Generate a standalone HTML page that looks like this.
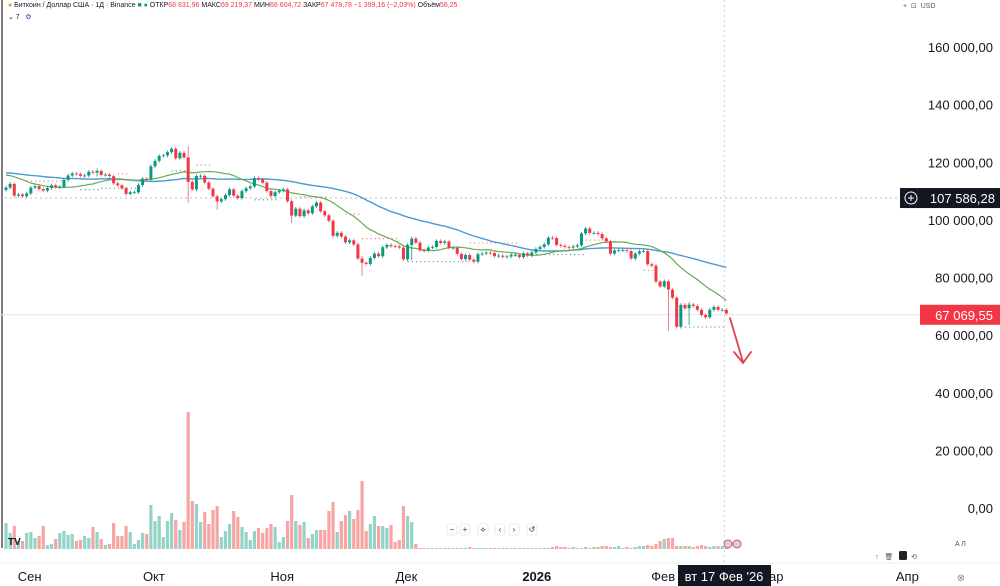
<!DOCTYPE html>
<html><head><meta charset="utf-8">
<style>
html,body{margin:0;padding:0;background:#fff;overflow:hidden}
body{width:1000px;height:586px;position:relative;font-family:"Liberation Sans","DejaVu Sans",sans-serif}
svg{position:absolute;left:0;top:0}
.hdr{position:absolute;left:8px;top:2px;font-size:7px;color:#131722;white-space:nowrap}
.hdr .r{color:#f23645}
</style></head>
<body>
<svg id="chart" width="1000" height="586"></svg>
<div class="hdr"><span style="color:#f7931a">●</span> Биткоин / Доллар США · 1Д · Binance <span style="color:#089981">■ ●</span> ОТКР<span class="r">68 831,96</span> МАКС<span class="r">69 219,37</span> МИН<span class="r">66 604,72</span> ЗАКР<span class="r">67 478,78 −1 399,16 (−2,03%)</span> Объём<span class="r">56,25</span></div>
<div style="position:absolute;left:8px;top:13px;font-size:7px;color:#131722">⌄ 7 &nbsp;&nbsp;<span style="color:#7e57c2">✿</span></div>
<div style="position:absolute;left:903px;top:2px;font-size:7px;color:#555">+ &nbsp;⊡ &nbsp;USD</div>
<script>
const priorCloses=[111,116,117,117,119,119,117,118,119,117,118,117,120,118,118,117,117,119,118,118,117,115,115,113,114,115,114,115,117,117,116,117,119,118,120,123,118,117,117,115,116,113,114,112,116,115,113,110,111];
const closes=[111.2,112.5,108.4,108.8,108.2,
109.2,111.2,111.7,110.7,110.2,111.1,112.0,111.4,111.5,113.9,
115.4,116.1,115.9,115.3,115.4,116.7,116.4,117.0,115.6,115.7,
115.2,112.7,112.0,111.0,109.0,109.6,109.6,112.1,114.3,114.0,
118.6,120.5,122.2,122.4,123.5,124.7,121.4,123.3,121.7,113.2,
110.6,115.2,115.3,113.0,110.8,108.2,106.4,107.2,108.6,110.6,
108.4,107.6,110.0,111.0,111.6,114.5,114.1,112.9,110.0,108.3,109.6,
110.1,110.6,106.5,101.5,103.9,101.3,103.3,102.3,104.7,106.0,
103.0,101.6,99.7,94.5,95.5,94.2,92.2,92.9,91.5,86.6,
85.1,84.7,86.8,88.3,87.4,90.5,91.3,90.9,90.8,90.4,
86.3,91.3,93.5,92.1,89.4,89.3,90.4,90.6,92.7,92.0,
92.5,90.3,90.3,88.2,86.4,87.8,86.2,85.5,88.1,88.3,
88.6,88.5,87.4,87.6,87.2,87.3,87.8,87.8,87.1,88.4,87.6,
88.7,89.9,90.6,91.5,93.8,93.7,91.3,91.0,90.6,90.4,
90.8,91.2,95.3,97.0,95.5,95.5,95.1,93.6,92.6,88.3,
89.4,89.5,89.5,89.2,86.6,88.3,89.1,89.2,84.6,84.1,78.6,
76.9,78.7,75.8,73.0,62.9,70.5,69.3,70.6,70.1,68.8,
67.0,66.2,68.8,69.8,68.8,68.8,67.5];
const firstOpen=110.4;
const wickSpikes=[[44,125.5,106],[51,108.8,103.5],[69,107,98.9],[86,87.5,80.6],[98,94.2,86],[160,73.5,61.5],[165,71.5,63.5],[22,117.8,115]];
const volumes=[26,16,23,8,8,16,17,11,13,23,4,5,10,16,18,14,15,8,9,13,11,22,17,10,4,5,26,13,13,23,17,5,9,16,15,44,28,33,12,28,36,29,19,27,137,48,45,27,37,25,39,43,12,18,25,38,32,22,17,9,18,21,16,21,25,22,7,12,28,54,28,24,27,11,15,19,19,19,38,47,17,28,34,38,30,39,68,18,25,33,23,23,21,24,7,9,43,33,27,5,
1,1,1,1,1,1,1,1,1,1,1,1,2,1,1,1,1,1,1,1,1,1,1,1,1,1,1,1,1,1,1,1,2,3,2,2,1,2,1,1,2,1,2,2,3,3,2,2,3,1,2,1,2,3,3,4,3,5,8,10,11,11,3,3,3,3,2,3,4,3,2,3,3,3,2];
const resistLevels=[[5,14,113.5],[27,30,116],[46,50,119],[71,78,108],[82,86,102],[86,95,93.5],[112,124,92],[140,145,93],[154,157,82.5]];
const supportLevels=[[18,23,110.5],[23,33,111],[40,44,117],[60,66,107],[97,112,85.5],[122,140,88],[164,174,62.8]];
const priceTicks=[160000,140000,120000,100000,80000,60000,40000,20000,0];
const tickLabels=["160 000,00","140 000,00","120 000,00","100 000,00","80 000,00","60 000,00","40 000,00","20 000,00","0,00"];
const monthLabels=[["Сен",5],["Окт",35],["Ноя",66],["Дек",96],["2026",127],["Фев",158],["Мар",184],["Апр",217]];
const crossPrice=107586.28, lastPrice=67069.55;

const NS="http://www.w3.org/2000/svg";
const svg=document.getElementById('chart');
function X(i){return 6+i*4.14;}
function Y(k){return 508-k*2.881;}
function V(v){return 549-v;}
function mk(t,a,p){const e=document.createElementNS(NS,t);for(const k in a)e.setAttribute(k,a[k]);(p||svg).appendChild(e);return e;}

let e;
e=mk('line',{x1:2,y1:0,x2:2,y2:548,stroke:'#555','stroke-width':1.5});

e=mk('line',{x1:0,y1:563,x2:1000,y2:563,stroke:'#eee'});

e=mk('line',{x1:0,y1:Y(lastPrice/1000),x2:920,y2:Y(lastPrice/1000),stroke:'#e4e4e4','stroke-width':1});

e=mk('line',{x1:0,y1:Y(crossPrice/1000),x2:900,y2:Y(crossPrice/1000),stroke:'#bbb','stroke-dasharray':'2,3'});

e=mk('line',{x1:X(174)-2,y1:0,x2:X(174)-2,y2:563,stroke:'#ccc','stroke-dasharray':'2,3'});


for(let i=0;i<closes.length;i++){
  const o=i?closes[i-1]:firstOpen,up=closes[i]>=o,v=volumes[i];
  e=mk('rect',{x:X(i)-1.6,y:V(v),width:3.2,height:Math.max(v,0.6),fill:up?'#93d3c8':'#f7a5a3'});
  
}
function levels(arr,col,name){for(const l of arr){e=mk('line',{x1:X(l[0]),y1:Y(l[2]),x2:X(l[1]),y2:Y(l[2]),stroke:col,'stroke-width':1.2,'stroke-dasharray':'1.2,3'});
}}
levels(resistLevels,'#f08080','resistance-level');
levels(supportLevels,'#3fae98','support-level');

const all=priorCloses.concat(closes),off=priorCloses.length;
function sma(n){let pts=[];for(let i=0;i<closes.length;i++){const j=i+off;const s=Math.max(0,j-n+1);let sum=0;for(let k=s;k<=j;k++)sum+=all[k];pts.push(X(i).toFixed(1)+','+Y(sum/(j-s+1)).toFixed(1));}return pts.join(' ');}
e=mk('polyline',{points:sma(50),fill:'none',stroke:'#4a9ad4','stroke-width':1.4});

e=mk('polyline',{points:sma(20),fill:'none',stroke:'#6aaa55','stroke-width':1.2});


const spikes={};for(const s of wickSpikes)spikes[s[0]]=s;
for(let i=0;i<closes.length;i++){
  const o=i?closes[i-1]:firstOpen,c=closes[i],up=c>=o,col=up?'#089981':'#f23645';
  let h=Math.max(o,c)+0.6,l=Math.min(o,c)-0.6;
  if(spikes[i]){h=Math.max(h,spikes[i][1]);l=Math.min(l,spikes[i][2]);}
  const g=mk('g',{});
  
  mk('line',{x1:X(i),y1:Y(h),x2:X(i),y2:Y(l),stroke:col,'stroke-width':0.8,opacity:up?1:0.8},g);
  mk('rect',{x:X(i)-1.5,y:Y(Math.max(o,c)),width:3,height:Math.max(Math.abs(Y(o)-Y(c)),0.8),fill:col},g);
}

e=mk('path',{d:'M730,318 L743,362 M734,352 L743,363 L751,352',fill:'none',stroke:'#e0414f','stroke-width':1.8,'stroke-linecap':'round'});


for(let i=0;i<priceTicks.length;i++){
  e=mk('text',{x:993,y:Y(priceTicks[i]/1000)+5,'text-anchor':'end','font-size':13,fill:'#131722'});
  e.textContent=tickLabels[i];
  
}
e=mk('rect',{x:900,y:Y(crossPrice/1000)-10,width:100,height:20,fill:'#131722'});

e=mk('circle',{cx:911,cy:Y(crossPrice/1000),r:6,fill:'none',stroke:'#fff','stroke-width':1});

mk('path',{d:`M908,${Y(crossPrice/1000)} h6 M911,${Y(crossPrice/1000)-3} v6`,stroke:'#fff','stroke-width':1});
e=mk('text',{x:995,y:Y(crossPrice/1000)+5,'text-anchor':'end','font-size':13,fill:'#fff'});e.textContent='107 586,28';

e=mk('rect',{x:920,y:Y(lastPrice/1000)-10,width:80,height:20,fill:'#f23645'});

e=mk('text',{x:993,y:Y(lastPrice/1000)+5,'text-anchor':'end','font-size':13,fill:'#fff'});e.textContent='67 069,55';


for(const m of monthLabels){
  e=mk('text',{x:X(m[1])+ (m[0]==='2026'?5:3),y:581,'text-anchor':'middle','font-size':13,fill:'#131722','font-weight':m[0]==='2026'?'bold':'normal'});
  e.textContent=m[0];
  
}
e=mk('rect',{x:678,y:565,width:93,height:21,fill:'#131722'});

e=mk('text',{x:724,y:581,'text-anchor':'middle','font-size':13,fill:'#fff'});e.textContent="вт 17 Фев '26";

e=mk('text',{x:961,y:581,'text-anchor':'middle','font-size':10,fill:'#888'});e.textContent='⊗';


const ctrls=['−','+','⟡','‹','›','↺'],cx=[452,465,483,500,514,532];
for(let i=0;i<ctrls.length;i++){
  const g=mk('g',{});
  mk('rect',{x:cx[i]-5,y:524,width:10,height:11,rx:2,fill:'#fff',stroke:'#ddd','stroke-width':0.6},g);
  const t=mk('text',{x:cx[i],y:532,'text-anchor':'middle','font-size':8,fill:'#333'},g);t.textContent=ctrls[i];
}
for(const bx of [728,737]){e=mk('circle',{cx:bx,cy:544,r:4,fill:'#c8d4f0',stroke:'#e05060','stroke-width':1});
}
e=mk('text',{x:8,y:545,'font-size':10,'font-weight':'bold',fill:'#131722'});e.textContent='TV';

e=mk('text',{x:955,y:546,'font-size':7,fill:'#555'});e.textContent='A  Л';

const tools=['↑','🗑','','⟲'],tx=[877,889,903,914];
for(let i=0;i<tools.length;i++){
  if(i===2){e=mk('rect',{x:899,y:551,width:8,height:9,rx:1.5,fill:'#222'});}
  else{e=mk('text',{x:tx[i],y:559,'text-anchor':'middle','font-size':7,fill:'#555'});e.textContent=tools[i];}
  
}
</script>
</body></html>
